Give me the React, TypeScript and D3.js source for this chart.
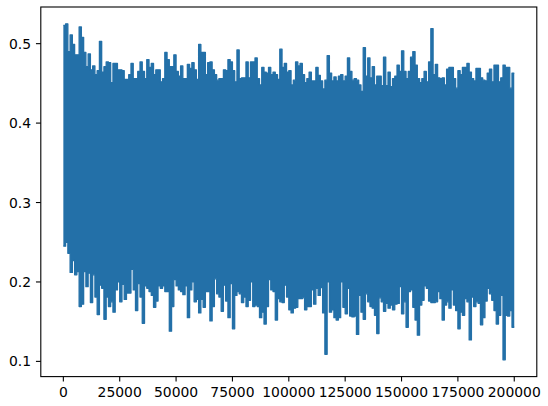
import React from "react";
import * as d3 from "d3";

// Per-bin (1000 samples each) upper / lower extremes of the 200000-step series
const UPPER = [
  0.523, 0.525, 0.490, 0.511, 0.499, 0.486, 0.486, 0.521, 0.508, 0.489,
  0.471, 0.487, 0.467, 0.472, 0.461, 0.466, 0.503, 0.464, 0.471, 0.477,
  0.476, 0.451, 0.475, 0.475, 0.467, 0.467, 0.466, 0.455, 0.455, 0.461,
  0.475, 0.456, 0.456, 0.465, 0.477, 0.465, 0.456, 0.480, 0.470, 0.475,
  0.461, 0.467, 0.467, 0.452, 0.456, 0.489, 0.480, 0.471, 0.471, 0.486,
  0.465, 0.459, 0.472, 0.456, 0.456, 0.474, 0.469, 0.476, 0.467, 0.455,
  0.499, 0.489, 0.489, 0.461, 0.476, 0.477, 0.467, 0.461, 0.454, 0.456,
  0.456, 0.467, 0.466, 0.480, 0.477, 0.466, 0.452, 0.492, 0.456, 0.457,
  0.457, 0.477, 0.457, 0.477, 0.477, 0.482, 0.456, 0.448, 0.470, 0.464,
  0.463, 0.470, 0.461, 0.464, 0.461, 0.455, 0.493, 0.470, 0.475, 0.464,
  0.466, 0.448, 0.454, 0.477, 0.472, 0.475, 0.461, 0.451, 0.456, 0.464,
  0.453, 0.453, 0.470, 0.460, 0.453, 0.443, 0.454, 0.485, 0.463, 0.453,
  0.458, 0.453, 0.459, 0.461, 0.453, 0.459, 0.482, 0.465, 0.454, 0.456,
  0.454, 0.448, 0.440, 0.495, 0.459, 0.482, 0.457, 0.471, 0.448, 0.459,
  0.459, 0.447, 0.483, 0.447, 0.464, 0.446, 0.456, 0.459, 0.473, 0.465,
  0.491, 0.465, 0.456, 0.465, 0.483, 0.490, 0.473, 0.456, 0.451, 0.456,
  0.465, 0.452, 0.477, 0.519, 0.461, 0.474, 0.457, 0.456, 0.457, 0.448,
  0.468, 0.470, 0.470, 0.456, 0.444, 0.466, 0.461, 0.470, 0.470, 0.475,
  0.464, 0.456, 0.453, 0.469, 0.469, 0.457, 0.454, 0.453, 0.463, 0.468,
  0.452, 0.473, 0.473, 0.452, 0.457, 0.473, 0.470, 0.470, 0.444, 0.463,
];

const LOWER = [
  0.245, 0.250, 0.236, 0.212, 0.227, 0.209, 0.213, 0.169, 0.172, 0.213,
  0.194, 0.211, 0.174, 0.209, 0.181, 0.159, 0.196, 0.192, 0.153, 0.181,
  0.169, 0.175, 0.162, 0.190, 0.200, 0.175, 0.197, 0.178, 0.186, 0.186,
  0.216, 0.190, 0.164, 0.198, 0.181, 0.148, 0.195, 0.192, 0.188, 0.183,
  0.168, 0.176, 0.195, 0.192, 0.195, 0.188, 0.188, 0.138, 0.169, 0.203,
  0.195, 0.190, 0.188, 0.184, 0.195, 0.155, 0.190, 0.200, 0.175, 0.178,
  0.161, 0.178, 0.168, 0.188, 0.188, 0.151, 0.169, 0.204, 0.185, 0.181,
  0.163, 0.196, 0.176, 0.155, 0.198, 0.141, 0.183, 0.188, 0.185, 0.174,
  0.181, 0.169, 0.177, 0.200, 0.169, 0.171, 0.169, 0.155, 0.162, 0.147,
  0.169, 0.203, 0.190, 0.188, 0.152, 0.179, 0.175, 0.174, 0.196, 0.181,
  0.165, 0.161, 0.167, 0.168, 0.179, 0.179, 0.180, 0.165, 0.169, 0.169,
  0.190, 0.172, 0.192, 0.183, 0.193, 0.161, 0.109, 0.200, 0.162, 0.165,
  0.155, 0.152, 0.155, 0.200, 0.168, 0.160, 0.192, 0.157, 0.156, 0.157,
  0.134, 0.183, 0.162, 0.153, 0.185, 0.175, 0.169, 0.167, 0.158, 0.135,
  0.180, 0.175, 0.163, 0.173, 0.167, 0.171, 0.165, 0.172, 0.173, 0.194,
  0.160, 0.175, 0.143, 0.188, 0.190, 0.168, 0.152, 0.133, 0.171, 0.177,
  0.195, 0.192, 0.176, 0.174, 0.174, 0.175, 0.188, 0.179, 0.152, 0.171,
  0.175, 0.167, 0.190, 0.171, 0.164, 0.141, 0.162, 0.158, 0.179, 0.175,
  0.127, 0.181, 0.169, 0.175, 0.173, 0.146, 0.155, 0.176, 0.192, 0.185,
  0.177, 0.164, 0.147, 0.158, 0.183, 0.102, 0.158, 0.157, 0.164, 0.143,
];

const BIN_SIZE = 1000;
const N_POINTS = 200000;
const X_TICKS = [0, 25000, 50000, 75000, 100000, 125000, 150000, 175000, 200000];
const Y_TICKS = [0.1, 0.2, 0.3, 0.4, 0.5];

const COLOR = "#2370a8";
const W = 548;
const H = 406;
const AX = { left: 40.8, top: 7, width: 496, height: 369.6 };
const FONT = "'DejaVu Sans', sans-serif";
const FS = 13.9;

export default function App() {
  const lastIdx = N_POINTS - 1;
  const xMargin = lastIdx * 0.05;
  const x = d3
    .scaleLinear()
    .domain([-xMargin, lastIdx + xMargin])
    .range([AX.left, AX.left + AX.width]);

  const all = [...UPPER, ...LOWER];
  const [ymin, ymax] = d3.extent(all) as [number, number];
  const yr = ymax - ymin;
  const y = d3
    .scaleLinear()
    .domain([ymin - yr * 0.05, ymax + yr * 0.05])
    .range([AX.top + AX.height, AX.top]);

  const pts = UPPER.map((u, k) => ({ i: k * BIN_SIZE, hi: u, lo: LOWER[k] }));
  pts.push({ i: lastIdx, hi: UPPER[UPPER.length - 1], lo: LOWER[LOWER.length - 1] });

  const area = d3
    .area<{ i: number; hi: number; lo: number }>()
    .x((d) => x(d.i))
    .y0((d) => y(d.lo))
    .y1((d) => y(d.hi))
    .curve(d3.curveStepAfter);
  const upLine = d3
    .line<{ i: number; hi: number; lo: number }>()
    .x((d) => x(d.i))
    .y((d) => y(d.hi))
    .curve(d3.curveStepAfter);
  const loLine = d3
    .line<{ i: number; hi: number; lo: number }>()
    .x((d) => x(d.i))
    .y((d) => y(d.lo))
    .curve(d3.curveStepAfter);

  const tickLen = 4.86;
  const pad = 4.86;
  const bottom = AX.top + AX.height;

  return (
    <svg
      width={W}
      height={H}
      style={{ position: "absolute", left: 0, top: 0, background: "#fff" }}
      fontFamily={FONT}
    >
      <rect x={0} y={0} width={W} height={H} fill="#fff" />
      <defs>
        <clipPath id="axclip">
          <rect x={AX.left} y={AX.top} width={AX.width} height={AX.height} />
        </clipPath>
      </defs>
      <g clipPath="url(#axclip)">
        <path d={area(pts) || ""} fill={COLOR} stroke="none" />
        <path d={upLine(pts) || ""} fill="none" stroke={COLOR} strokeWidth={1.3} strokeLinejoin="round" />
        <path d={loLine(pts) || ""} fill="none" stroke={COLOR} strokeWidth={1.3} strokeLinejoin="round" />
      </g>
      {/* spines */}
      <rect
        x={AX.left}
        y={AX.top}
        width={AX.width}
        height={AX.height}
        fill="none"
        stroke="#000"
        strokeWidth={1.1}
      />
      {/* x ticks */}
      {X_TICKS.map((t) => (
        <g key={"x" + t}>
          <line x1={x(t)} x2={x(t)} y1={bottom} y2={bottom + tickLen} stroke="#000" strokeWidth={1.1} />
          <text
            x={x(t)}
            y={bottom + tickLen + pad}
            dy="0.76em"
            textAnchor="middle"
            fontSize={FS}
            fill="#000"
          >
            {t}
          </text>
        </g>
      ))}
      {/* y ticks */}
      {Y_TICKS.map((t) => (
        <g key={"y" + t}>
          <line x1={AX.left - tickLen} x2={AX.left} y1={y(t)} y2={y(t)} stroke="#000" strokeWidth={1.1} />
          <text
            x={AX.left - tickLen - pad}
            y={y(t)}
            dy="0.36em"
            textAnchor="end"
            fontSize={FS}
            fill="#000"
          >
            {t.toFixed(1)}
          </text>
        </g>
      ))}
    </svg>
  );
}
